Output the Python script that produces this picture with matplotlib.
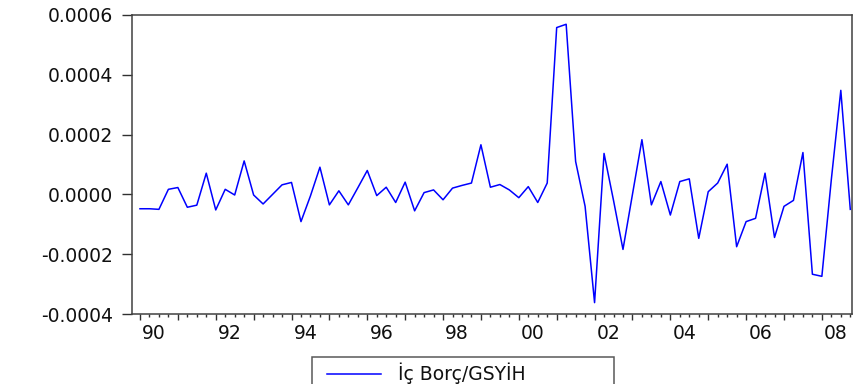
import matplotlib
matplotlib.use("Agg")
import matplotlib.pyplot as plt
from matplotlib.legend_handler import HandlerLine2D
from matplotlib.transforms import ScaledTranslation
import matplotlib.ticker as mticker

# Quarterly series, 1990Q1 .. 2008Q4
years = list(range(1990, 2009))
values = [
    -0.000048, -0.000048, -0.000050, 0.000017,   # 1990
    0.000023, -0.000043, -0.000036, 0.000071,    # 1991
    -0.000052, 0.000017, -0.000002, 0.000112,    # 1992
    -0.000002, -0.000032, 0.000000, 0.000032,    # 1993
    0.000040, -0.000091, -0.000005, 0.000091,    # 1994
    -0.000035, 0.000012, -0.000035, 0.000022,    # 1995
    0.000080, -0.000004, 0.000024, -0.000027,    # 1996
    0.000041, -0.000055, 0.000006, 0.000015,     # 1997
    -0.000018, 0.000021, 0.000030, 0.000038,     # 1998
    0.000166, 0.000024, 0.000033, 0.000015,      # 1999
    -0.000011, 0.000026, -0.000027, 0.000038,    # 2000
    0.000558, 0.000569, 0.000110, -0.000040,     # 2001
    -0.000362, 0.000137, -0.000020, -0.000184,   # 2002
    0.000000, 0.000183, -0.000035, 0.000043,     # 2003
    -0.000069, 0.000043, 0.000052, -0.000147,    # 2004
    0.000009, 0.000038, 0.000101, -0.000175,     # 2005
    -0.000091, -0.000080, 0.000071, -0.000144,   # 2006
    -0.000040, -0.000020, 0.000140, -0.000267,   # 2007
    -0.000274, 0.000050, 0.000348, -0.000050,    # 2008
]
series_label = "İç Borç/GSYİH"
y_ticks = [-0.0004, -0.0002, 0.0, 0.0002, 0.0004, 0.0006]
y_tick_labels = ["-0.0004", "-0.0002", "0.0000", "0.0002", "0.0004", "0.0006"]
x_tick_labels = [f"{y % 100:02d}" if y % 2 == 0 else "" for y in years]

plt.rcParams['font.family'] = ['DejaVu Sans']
FS = 13.5

fig = plt.figure(figsize=(8.54, 3.84), dpi=100)
ax = fig.add_axes([132.4 / 854, 1 - 314 / 384, (851.7 - 132.4) / 854, (314 - 15) / 384])

t = list(range(len(values)))
line, = ax.plot(t, values, color='#0000ff', lw=1.1, label=series_label)

ax.set_xlim(-0.8, 75.15)
ax.set_ylim(-0.0004, 0.0006)

ax.set_yticks(y_ticks)
ax.set_yticklabels(y_tick_labels)

year_pos = [4 * i for i in range(len(years))]
ax.xaxis.set_major_locator(mticker.FixedLocator(year_pos))
ax.xaxis.set_major_formatter(mticker.FixedFormatter(x_tick_labels))
ax.xaxis.set_minor_locator(mticker.FixedLocator(t))

ax.tick_params(axis='x', which='major', direction='out', length=4.0, width=1.0,
               color='#303030', labelsize=FS, pad=3.5, labelcolor='#101010')
ax.tick_params(axis='x', which='minor', direction='out', length=2.4, width=1.0,
               color='#303030')
ax.tick_params(axis='y', which='major', direction='out', length=7.0, width=1.0,
               color='#303030', labelsize=FS, pad=7.0, labelcolor='#101010')

# centre year labels over the year (shift by 1.5 quarters)
fig.canvas.draw()
ppq = (851.7 - 132.4) / (75.15 + 0.8)
offset = ScaledTranslation(1.5 * ppq / 100.0, 0, fig.dpi_scale_trans)
for lab in ax.xaxis.get_majorticklabels():
    lab.set_transform(lab.get_transform() + offset)

for sp in ax.spines.values():
    sp.set_color('#404040')
    sp.set_linewidth(1.1)

fs_px = FS * 100 / 72
bp = 0.32
content_left = 311.5 + bp * fs_px
xpad = (327 - content_left) / fs_px
hlen = (381 - content_left) / fs_px
htp = (397.6 - 381) / fs_px

leg = ax.legend(handles=[line], loc='upper left',
                bbox_to_anchor=(311.5 / 854, 0.0, (613.8 - 311.5) / 854, 1 - 356.7 / 384),
                bbox_transform=fig.transFigure, mode='expand', borderaxespad=0,
                fontsize=FS, frameon=True, fancybox=False, shadow=False,
                borderpad=bp, handlelength=hlen, handletextpad=htp,
                handler_map={line: HandlerLine2D(xpad=xpad)})
leg.get_frame().set_edgecolor('#303030')
leg.get_frame().set_linewidth(1.1)
for txt in leg.get_texts():
    txt.set_color('#101010')

fig.savefig('out.png', dpi=100)
